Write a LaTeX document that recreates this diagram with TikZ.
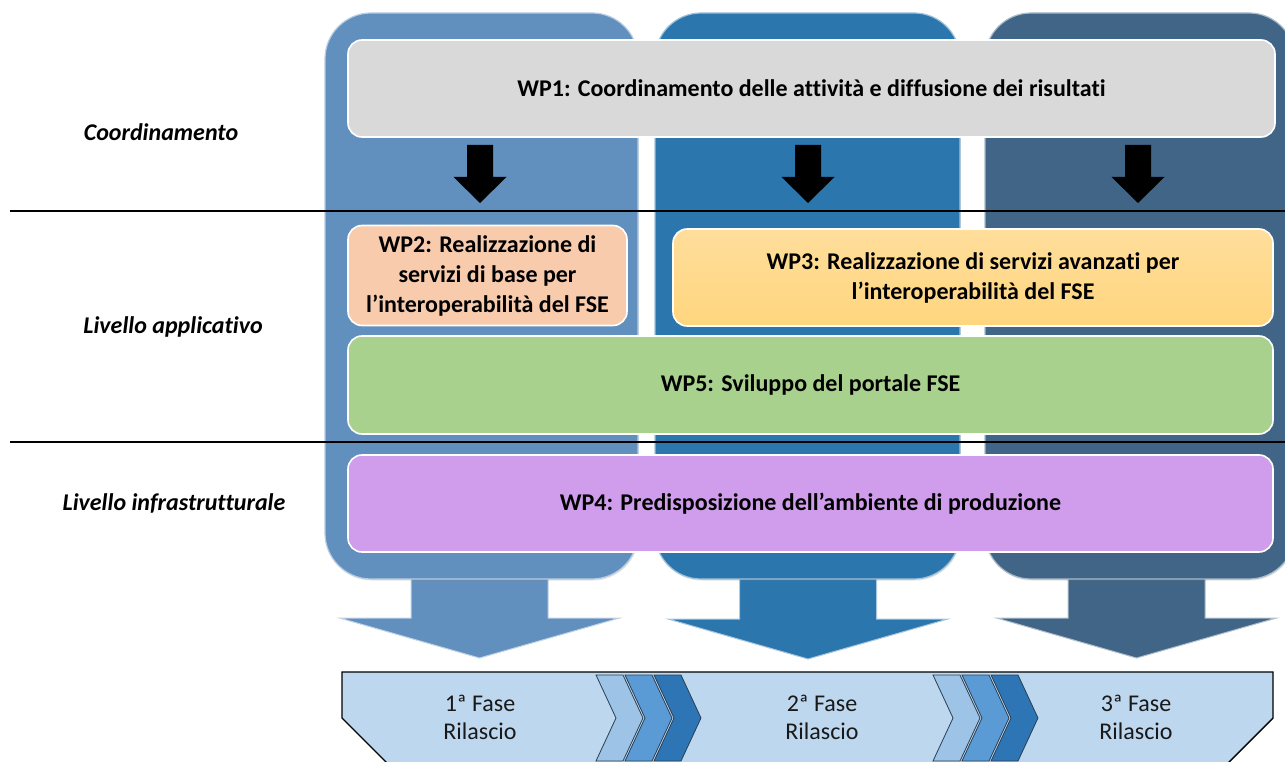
\documentclass[tikz,border=0pt]{standalone}
\usepackage{fontspec}
\setmainfont{Carlito}[Ligatures=NoCommon]
\usetikzlibrary{shadows}

\definecolor{colA}{HTML}{6190BE}
\definecolor{colB}{HTML}{2C76AE}
\definecolor{colC}{HTML}{406587}
\definecolor{wpgray}{HTML}{D9D9D9}
\definecolor{wppeach}{HTML}{F8CBAD}
\definecolor{wpgoldtop}{HTML}{FFDE9C}
\definecolor{wpgold}{HTML}{FFD67E}
\definecolor{wpgreen}{HTML}{A9D18E}
\definecolor{wpviolet}{HTML}{D09CEC}
\definecolor{bandblue}{HTML}{BDD7EE}
\definecolor{chevA}{HTML}{9DC3E6}
\definecolor{chevB}{HTML}{5B9BD5}
\definecolor{chevC}{HTML}{2E75B6}
\definecolor{chevline}{HTML}{2B3F52}

\newcommand{\wpfont}{\fontsize{24}{30}\selectfont\bfseries}
\newcommand{\layerfont}{\fontsize{24}{28}\selectfont\bfseries\itshape}
\newcommand{\phasefont}{\fontsize{24}{28}\selectfont}

\begin{document}
\begin{tikzpicture}[x=1pt,y=-1pt,
  phasecol/.style={rectangle, rounded corners=46pt, draw=white!55!#1, line width=1.2pt,
    fill=#1, inner sep=0pt,
    drop shadow={opacity=0.22, shadow xshift=0.8pt, shadow yshift=-1.5pt}},
  wpbox/.style={rectangle, rounded corners=14pt, draw=white, line width=1.6pt,
    fill=#1, inner sep=0pt, align=center, font=\wpfont, text=black},
  layerlabel/.style={font=\layerfont, text=black, inner sep=0pt},
  layerline/.style={line width=2.4pt, black},
  phaselabel/.style={font=\phasefont, align=center, text=black!90, inner sep=0pt},
  bigarrow/.pic={\path[pic actions] (-68.5,-6) -- (68.5,-6) -- (68.5,39) -- (140,39)
      -- (0,79) -- (-140,39) -- (-68.5,39) -- cycle;},
  blackarrow/.pic={\fill[black] (-13,0) -- (13,0) -- (13,32) -- (26.5,32)
      -- (0,58) -- (-26.5,32) -- (-13,32) -- cycle;},
  chevron/.pic={\path[pic actions] (0,0) -- (27,0) -- (47,43) -- (27,86) -- (0,86)
      -- (20,43) -- cycle;},
]
\useasboundingbox (0,0) rectangle (1285,762);
\clip (0,0) rectangle (1285,762);
\fill[white] (0,0) rectangle (1285,762);

% release arrows leaving the bottom of each column
\pic[fill=colA, draw=white!60!colA, line width=1pt] at (479.5,579) {bigarrow};
\pic[fill=colB, draw=white!60!colB, line width=1pt] at (808,580) {bigarrow};
\pic[fill=colC, draw=white!60!colC, line width=1pt] at (1136.5,579) {bigarrow};

% the three phase columns
\node[phasecol=colA, minimum width=313pt, minimum height=566pt] (col1) at (481.5,296) {};
\node[phasecol=colB, minimum width=305pt, minimum height=566pt] (col2) at (807.5,296) {};
\node[phasecol=colC, minimum width=310pt, minimum height=566pt] (col3) at (1140,296) {};

% layer separators
\coordinate (sepAl) at (10,211);  \coordinate (sepAr) at (1290,211);
\coordinate (sepBl) at (10,442);  \coordinate (sepBr) at (1290,442);
\draw[layerline] (sepAl) -- (sepAr);
\draw[layerline] (sepBl) -- (sepBr);

% layer labels
\node[layerlabel] (lcoord) at (161,132) {Coordinamento};
\node[layerlabel] (lapp) at (173,327) {Livello applicativo};
\node[layerlabel] (linfra) at (174,503) {Livello infrastrutturale};

% work packages
\node[wpbox=wpgray, minimum width=927pt, minimum height=97pt] (wp1) at (811.5,88.5)
  {WP1: Coordinamento delle attività e diffusione dei risultati};
\node[wpbox=wppeach, minimum width=279pt, minimum height=100pt] (wp2) at (487.5,275.5)
  {WP2: Realizzazione di\\servizi di base per\\l’interoperabilità del FSE};
\node[wpbox=wpgold, top color=wpgoldtop, bottom color=wpgold,
      minimum width=600pt, minimum height=97pt] (wp3) at (973,277.5)
  {WP3: Realizzazione di servizi avanzati per\\l’interoperabilità del FSE};
\node[wpbox=wpgreen, minimum width=925pt, minimum height=98pt] (wp5) at (810.5,385)
  {WP5: Sviluppo del portale FSE};
\node[wpbox=wpviolet, minimum width=925pt, minimum height=97pt] (wp4) at (810.5,503.5)
  {WP4: Predisposizione dell’ambiente di produzione};

% coordination arrows below WP1
\pic at (480,145) {blackarrow};
\pic at (808,145) {blackarrow};
\pic at (1138,145) {blackarrow};

% release band
\path[fill=bandblue, draw=black, line width=1.4pt]
  (414,790) -- (342,718) -- (342,672) -- (1273,672) -- (1273,718) -- (1201,790);
\node[inner sep=0pt, minimum width=931pt, minimum height=90pt] (band) at (807.5,717) {};

% progress chevrons
\pic[fill=chevA, draw=chevline, line width=0.8pt] at (596,675) {chevron};
\pic[fill=chevB, draw=chevline, line width=0.8pt] at (625,675) {chevron};
\pic[fill=chevC, draw=chevline, line width=0.8pt] at (654,675) {chevron};
\pic[fill=chevA, draw=chevline, line width=0.8pt] at (933,675) {chevron};
\pic[fill=chevB, draw=chevline, line width=0.8pt] at (962,675) {chevron};
\pic[fill=chevC, draw=chevline, line width=0.8pt] at (991,675) {chevron};

% phase labels
\node[phaselabel] (ph1) at (480,717) {1ª Fase\\Rilascio};
\node[phaselabel] (ph2) at (822,717) {2ª Fase\\Rilascio};
\node[phaselabel] (ph3) at (1136,717) {3ª Fase\\Rilascio};
\end{tikzpicture}
\end{document}
